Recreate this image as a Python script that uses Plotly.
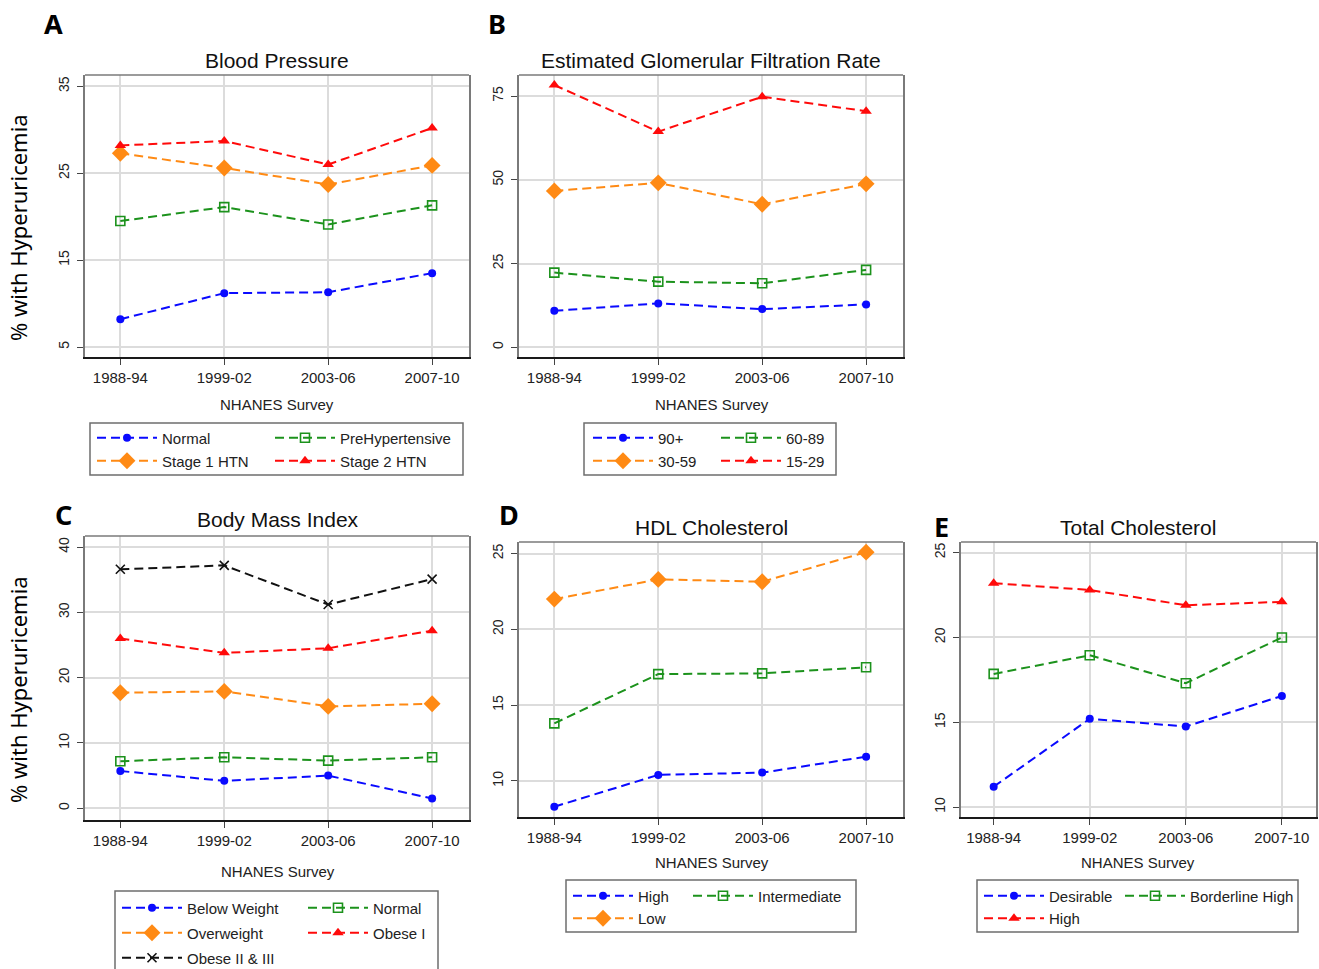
import plotly.graph_objects as go

W, H = 1319, 969

surveys = ["1988-94", "1999-02", "2003-06", "2007-10"]

# Panel A: Blood Pressure
bp_normal = [8.2, 11.2, 11.3, 13.5]
bp_prehyp = [19.5, 21.1, 19.1, 21.3]
bp_stage1 = [27.3, 25.6, 23.7, 25.9]
bp_stage2 = [28.2, 28.7, 26.0, 30.2]

# Panel B: Estimated Glomerular Filtration Rate
egfr_90 = [10.9, 13.1, 11.4, 12.8]
egfr_60 = [22.3, 19.6, 19.1, 23.1]
egfr_30 = [46.7, 49.1, 42.7, 48.8]
egfr_15 = [78.3, 64.4, 74.8, 70.5]

# Panel C: Body Mass Index
bmi_below = [5.7, 4.2, 5.0, 1.5]
bmi_normal = [7.2, 7.8, 7.3, 7.8]
bmi_over = [17.7, 17.9, 15.6, 16.0]
bmi_obese1 = [26.0, 23.8, 24.5, 27.2]
bmi_obese23 = [36.6, 37.2, 31.2, 35.1]

# Panel D: HDL Cholesterol
hdl_high = [8.3, 10.4, 10.55, 11.6]
hdl_inter = [13.8, 17.05, 17.1, 17.5]
hdl_low = [22.0, 23.3, 23.15, 25.1]

# Panel E: Total Cholesterol
tc_desirable = [11.2, 15.2, 14.75, 16.55]
tc_border = [17.85, 18.95, 17.3, 20.0]
tc_high = [23.2, 22.8, 21.9, 22.1]

STY = {
    "blue": dict(color="#0a0aff", symbol="circle", size=8, lw=0),
    "green": dict(color="#1c921c", symbol="square-open", size=9, lw=1.6),
    "orange": dict(color="#ff8a14", symbol="diamond", size=13, lw=0),
    "red": dict(color="#ff0a0a", symbol="triangle-up", size=10, lw=0),
    "black": dict(color="#111111", symbol="x-thin", size=9, lw=1.6),
}

ARIAL = "Liberation Sans, Arial, sans-serif"
SANS = "Noto Sans, Open Sans, sans-serif"


def fx(p):
    return p / W


def fy(p):
    return 1 - p / H


panels = [
    dict(title="Blood Pressure", letter="A", letter_pos=(53, 23), title_pos=(277, 60), xt_pos=(277, 404),
         box=(85, 75, 469, 357), yr=[3.85, 36.3], tv=[5, 15, 25, 35],
         series=[("Normal", bp_normal, "blue", 0), ("PreHypertensive", bp_prehyp, "green", 1),
                 ("Stage 1 HTN", bp_stage1, "orange", 0), ("Stage 2 HTN", bp_stage2, "red", 1)],
         leg_cols=(92, 270), leg_top=421.5, leg_gap=0.5, leg_box=(90, 423, 463, 475)),
    dict(title="Estimated Glomerular Filtration Rate", letter="B", letter_pos=(497, 23), title_pos=(711, 60),
         xt_pos=(712, 404), box=(519, 75, 903, 357), yr=[-2.9, 81.3], tv=[0, 25, 50, 75],
         series=[("90+", egfr_90, "blue", 0), ("60-89", egfr_60, "green", 1),
                 ("30-59", egfr_30, "orange", 0), ("15-29", egfr_15, "red", 1)],
         leg_cols=(588, 716), leg_top=421.5, leg_gap=0.5, leg_box=(584, 423, 836, 475)),
    dict(title="Body Mass Index", letter="C", letter_pos=(63, 514), title_pos=(278, 519), xt_pos=(278, 871),
         box=(85, 536, 469, 820), yr=[-1.8, 41.7], tv=[0, 10, 20, 30, 40],
         series=[("Below Weight", bmi_below, "blue", 0), ("Normal", bmi_normal, "green", 1),
                 ("Overweight", bmi_over, "orange", 0), ("Obese I", bmi_obese1, "red", 1),
                 ("Obese II & III", bmi_obese23, "black", 0)],
         leg_cols=(117, 303), leg_top=891.5, leg_gap=2.5, leg_box=(115, 891, 438, 975)),
    dict(title="HDL Cholesterol", letter="D", letter_pos=(509, 514), title_pos=(711, 527), xt_pos=(712, 862),
         box=(519, 542, 903, 817), yr=[7.62, 25.77], tv=[10, 15, 20, 25],
         series=[("High", hdl_high, "blue", 0), ("Intermediate", hdl_inter, "green", 1),
                 ("Low", hdl_low, "orange", 0)],
         leg_cols=(568, 688), leg_top=879.5, leg_gap=0, leg_box=(566, 880, 856, 932)),
    dict(title="Total Cholesterol", letter="E", letter_pos=(941, 526), title_pos=(1138, 527), xt_pos=(1138, 862),
         box=(961, 542, 1316, 817), yr=[9.41, 25.63], tv=[10, 15, 20, 25],
         series=[("Desirable", tc_desirable, "blue", 0), ("Borderline High", tc_border, "green", 1),
                 ("High", tc_high, "red", 0)],
         leg_cols=(979, 1120), leg_top=879.5, leg_gap=0, leg_box=(977, 880, 1298, 932)),
]

fig = go.Figure()
layout = dict(width=W, height=H, margin=dict(l=0, r=0, t=0, b=0, autoexpand=False),
              paper_bgcolor="white", plot_bgcolor="white", showlegend=True)
annotations = []
shapes = []
leg_idx = 0

for i, p in enumerate(panels, start=1):
    xid = "x" if i == 1 else f"x{i}"
    yid = "y" if i == 1 else f"y{i}"
    xa = "xaxis" if i == 1 else f"xaxis{i}"
    ya = "yaxis" if i == 1 else f"yaxis{i}"
    l, t, r, b = p["box"]
    layout[xa] = dict(domain=[fx(l), fx(r)], anchor=yid, type="category",
                      categoryorder="array", categoryarray=surveys, range=[-0.34, 3.355],
                      showgrid=True, gridcolor="#dcdcdc", gridwidth=1.5,
                      showline=True, linecolor="#1a1a1a", linewidth=2, mirror=False,
                      ticks="outside", ticklen=6, tickwidth=1.2, tickcolor="#444",
                      tickfont=dict(family=ARIAL, size=15, color="#222"),
                      zeroline=False, fixedrange=True)
    layout[ya] = dict(domain=[fy(b), fy(t)], anchor=xid, range=p["yr"], tickvals=p["tv"],
                      showgrid=True, gridcolor="#dcdcdc", gridwidth=1.5,
                      showline=True, linecolor="#7a7a7a", linewidth=1.5, mirror=True,
                      ticks="outside", ticklen=6, tickwidth=1.2, tickcolor="#444",
                      tickangle=-90, ticklabelstandoff=3,
                      tickfont=dict(family=ARIAL, size=14, color="#222"),
                      zeroline=False, fixedrange=True)
    shapes.append(dict(type="line", xref=f"{xid} domain", yref=f"{yid} domain",
                       x0=0, x1=1, y0=1, y1=1, line=dict(color="#7a7a7a", width=1.5)))

    # legends: two columns -> two legends
    lnames = []
    for c in range(2):
        leg_idx += 1
        lname = "legend" if leg_idx == 1 else f"legend{leg_idx}"
        lnames.append(lname)
        layout[lname] = dict(x=fx(p["leg_cols"][c]), y=fy(p["leg_top"]), xanchor="left", yanchor="top",
                             bgcolor="rgba(0,0,0,0)", borderwidth=0, orientation="v",
                             itemwidth=60, tracegroupgap=p["leg_gap"], traceorder="grouped",
                             font=dict(family=ARIAL, size=15, color="#222"))
    lb = p["leg_box"]
    shapes.append(dict(type="rect", xref="paper", yref="paper", x0=fx(lb[0]), x1=fx(lb[2]),
                       y0=fy(lb[3]), y1=fy(lb[1]), line=dict(color="#6e6e6e", width=1.5)))

    for k, (name, vals, sty, col) in enumerate(p["series"]):
        s = STY[sty]
        fig.add_trace(go.Scatter(
            x=surveys, y=vals, name=name, mode="lines+markers",
            xaxis=xid, yaxis=yid, legend=lnames[col], legendgroup=f"p{i}s{k}",
            line=dict(color=s["color"], width=2, dash="9px,5px"),
            marker=dict(symbol=s["symbol"], size=s["size"], color=s["color"],
                        line=dict(color=s["color"], width=s["lw"])),
            cliponaxis=False))

    annotations.append(dict(text=p["title"], x=fx(p["title_pos"][0]), y=fy(p["title_pos"][1]),
                            xref="paper", yref="paper", showarrow=False, xanchor="center", yanchor="middle",
                            font=dict(family=ARIAL, size=21, color="#111")))
    annotations.append(dict(text=p["letter"], x=fx(p["letter_pos"][0]), y=fy(p["letter_pos"][1]),
                            xref="paper", yref="paper", showarrow=False, xanchor="center", yanchor="middle",
                            font=dict(family=SANS, size=27, color="#000", weight="bold")))
    annotations.append(dict(text="NHANES Survey", x=fx(p["xt_pos"][0]), y=fy(p["xt_pos"][1]),
                            xref="paper", yref="paper", showarrow=False, xanchor="center", yanchor="middle",
                            font=dict(family=ARIAL, size=15, color="#222")))

for yc in (228, 690):
    annotations.append(dict(text="% with Hyperuricemia", x=fx(18), y=fy(yc), xref="paper", yref="paper",
                            showarrow=False, textangle=-90, xanchor="center", yanchor="middle",
                            font=dict(family=SANS, size=22, color="#000")))

layout["annotations"] = annotations
layout["shapes"] = shapes
fig.update_layout(**layout)

fig.write_html("out.html", config={"displayModeBar": False},
               post_script="document.body.style.margin='0';")
